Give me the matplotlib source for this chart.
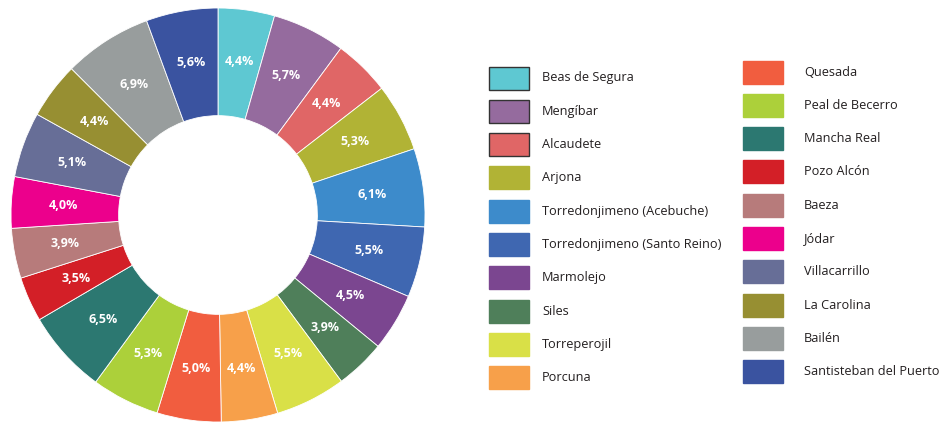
import matplotlib.pyplot as plt
from matplotlib.patches import Rectangle

# Datos
municipios = ["Beas de Segura", "Mengíbar", "Alcaudete", "Arjona",
              "Torredonjimeno (Acebuche)", "Torredonjimeno (Santo Reino)",
              "Marmolejo", "Siles", "Torreperojil", "Porcuna",
              "Quesada", "Peal de Becerro", "Mancha Real", "Pozo Alcón",
              "Baeza", "Jódar", "Villacarrillo", "La Carolina", "Bailén",
              "Santisteban del Puerto"]
porcentajes = [4.4, 5.7, 4.4, 5.3, 6.1, 5.5, 4.5, 3.9, 5.5, 4.4,
               5.0, 5.3, 6.5, 3.5, 3.9, 4.0, 5.1, 4.4, 6.9, 5.6]
colores = ["#5EC8D2", "#956B9E", "#E06666", "#B1B335", "#3D8BCB",
           "#3F67B1", "#7B4690", "#4F7F5A", "#D9E047", "#F7A04A",
           "#F15D3F", "#ACD03A", "#2C7871", "#D31F27", "#B77B7B",
           "#EC008C", "#676E97", "#978F32", "#989D9D", "#3A53A0"]

W, H = 947, 424
fig = plt.figure(figsize=(W / 100, H / 100), dpi=100)

# Donut
r_px = 207
ax = fig.add_axes([0, 0, 436 / W, 1])
ax.pie(porcentajes, colors=colores, startangle=90, counterclock=False,
       radius=1, wedgeprops=dict(width=0.52, edgecolor="white", linewidth=0.6),
       labels=[f"{v:.1f}%".replace(".", ",") for v in porcentajes],
       labeldistance=0.75,
       textprops=dict(color="white", fontsize=9, fontweight="bold",
                      family="Open Sans", ha="center", va="center"))
ax.set_xlim(-218 / r_px, 218 / r_px)
ax.set_ylim(-209 / r_px, 215 / r_px)
ax.set_aspect("equal")
ax.axis("off")

# Leyenda manual
columnas = [(489, 542, 78, municipios[:10], colores[:10]),
            (743, 804, 72, municipios[10:], colores[10:])]
paso = 33.3
for i, (px, tx, y0, nombres, cols) in enumerate(columnas):
    for j, (nombre, c) in enumerate(zip(nombres, cols)):
        yc = y0 + j * paso
        borde = "#333333" if (i == 0 and j < 3) else c
        fig.patches.append(Rectangle((px / W, 1 - (yc + 11.5) / H), 40 / W, 23 / H,
                                     transform=fig.transFigure, facecolor=c,
                                     edgecolor=borde, linewidth=1.0))
        fig.text(tx / W, 1 - yc / H, nombre, fontsize=9.2, family="Open Sans",
                 color="#231F20", va="center", ha="left")

fig.savefig("out.png", dpi=100)
